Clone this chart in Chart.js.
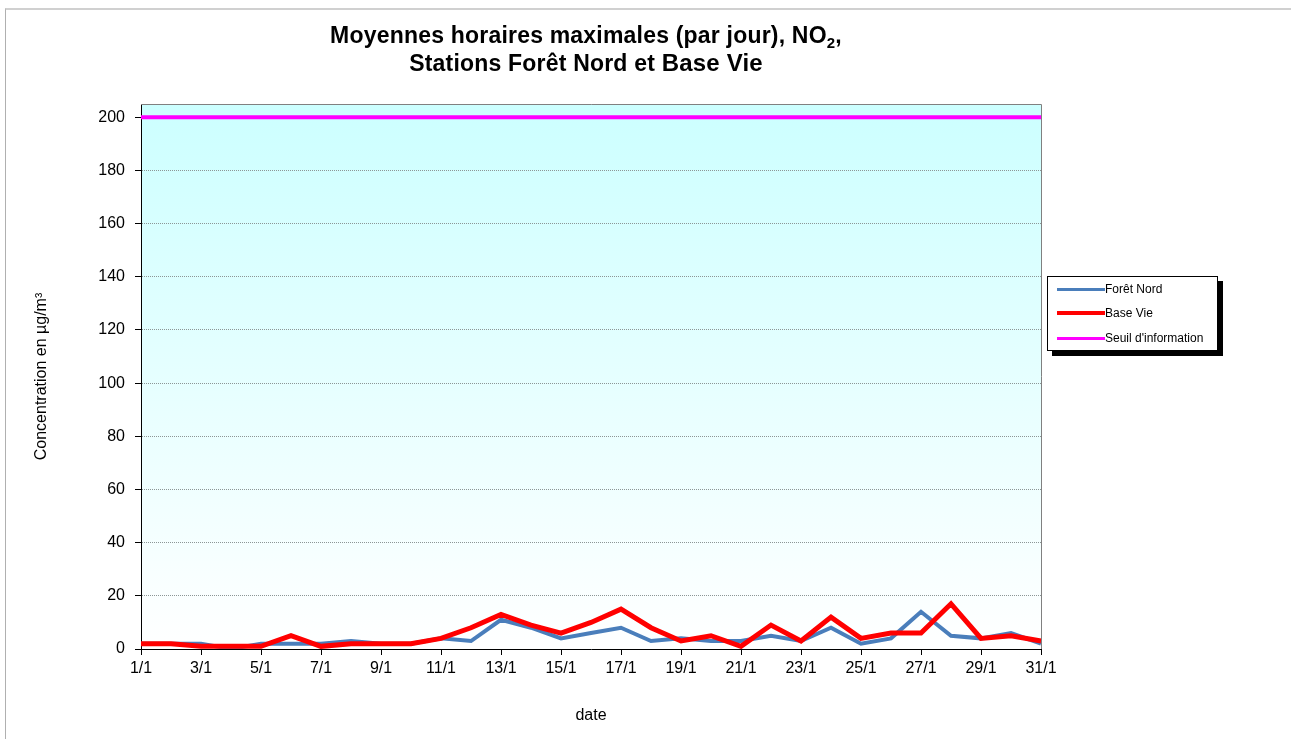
<!DOCTYPE html>
<html>
<head>
<meta charset="utf-8">
<script src="https://cdn.jsdelivr.net/npm/chart.js@4.4.1/dist/chart.umd.min.js"></script>
<style>
  html, body { margin: 0; padding: 0; background: #fff; }
  #wrap { position: relative; width: 1291px; height: 739px; overflow: hidden; font-family: "Liberation Sans", Arial, sans-serif; }
  #frame { position: absolute; left: 5px; top: 8px; width: 1400px; height: 900px; border-top: 2px solid #d0d0d0; border-left: 1px solid #b0b0b0; }
  #chart { position: absolute; left: 0; top: 0; }
  #title { position: absolute; left: 0; width: 1172px; top: 21px; text-align: center; font-weight: bold; font-size: 23px; letter-spacing: 0.2px; line-height: 28px; color: #000; }
  #title sub { font-size: 15px; vertical-align: -5px; line-height: 0; }
  #legend { position: absolute; left: 1047px; top: 276px; width: 171px; height: 75px; background: #fff; border: 1px solid #000; box-shadow: 5px 5px 0 #000; box-sizing: border-box; font-size: 12px; color: #000; }
  .item { position: absolute; left: 9px; height: 14px; line-height: 14px; }
  .item span.sw { position: absolute; left: 0; top: 6px; width: 48px; }
  .item span.tx { position: absolute; left: 48px; top: 0; white-space: nowrap; }
</style>
</head>
<body>
<div id="wrap">
  <div id="frame"></div>
  <canvas id="chart" width="1291" height="739"></canvas>
  <div id="title">Moyennes horaires maximales (par jour), NO<sub>2</sub>,<br>Stations Forêt Nord et <span style="font-size:24px">Base Vie</span></div>
  <div id="legend">
    <div class="item" style="top:5px"><span class="sw" style="border-top:3px solid #4a7ebb"></span><span class="tx">Forêt Nord</span></div>
    <div class="item" style="top:29px"><span class="sw" style="border-top:4px solid #ff0000;top:5px"></span><span class="tx">Base Vie</span></div>
    <div class="item" style="top:54px"><span class="sw" style="border-top:3px solid #ff00ff"></span><span class="tx">Seuil d'information</span></div>
  </div>
</div>
<script>
const days = ["1/1", "2/1", "3/1", "4/1", "5/1", "6/1", "7/1", "8/1", "9/1", "10/1",
  "11/1", "12/1", "13/1", "14/1", "15/1", "16/1", "17/1", "18/1", "19/1", "20/1",
  "21/1", "22/1", "23/1", "24/1", "25/1", "26/1", "27/1", "28/1", "29/1", "30/1", "31/1"];

const foretNord = [2, 2, 2, 0, 2, 2, 2, 3, 2, 2, 4, 3, 11, 8, 4, 6, 8, 3, 4, 3, 3, 5, 3, 8, 2, 4, 14, 5, 4, 6, 2];
const baseVie = [2, 2, 1, 1, 1, 5, 1, 2, 2, 2, 4, 8, 13, 9, 6, 10, 15, 8, 3, 5, 1, 9, 3, 12, 4, 6, 6, 17, 4, 5, 3];
const seuilInfo = [200, 200, 200, 200, 200, 200, 200, 200, 200, 200, 200, 200, 200, 200, 200, 200,
  200, 200, 200, 200, 200, 200, 200, 200, 200, 200, 200, 200, 200, 200, 200];

const yTicks = [0, 20, 40, 60, 80, 100, 120, 140, 160, 180, 200];

// fond dégradé cyan -> blanc + cadre gris haut/droite
const plotBg = {
  id: "plotBg",
  beforeDraw(chart) {
    const { ctx, chartArea: a } = chart;
    const g = ctx.createLinearGradient(0, a.top, 0, a.bottom);
    g.addColorStop(0, "#ccffff");
    g.addColorStop(1, "#ffffff");
    ctx.save();
    ctx.fillStyle = g;
    ctx.fillRect(a.left, a.top, a.right - a.left, a.bottom - a.top);
    ctx.restore();
  },
  afterDraw(chart) {
    const { ctx, chartArea: a } = chart;
    ctx.save();
    ctx.strokeStyle = "#808080";
    ctx.lineWidth = 1;
    ctx.beginPath();
    ctx.moveTo(a.left, a.top + 0.5);
    ctx.lineTo(a.right + 0.5, a.top + 0.5);
    ctx.lineTo(a.right + 0.5, a.bottom);
    ctx.stroke();
    ctx.restore();
  }
};

new Chart(document.getElementById("chart"), {
  type: "line",
  data: {
    labels: days,
    datasets: [
      { label: "Forêt Nord", data: foretNord, borderColor: "#4a7ebb", borderWidth: 4, order: 3 },
      { label: "Base Vie", data: baseVie, borderColor: "#ff0000", borderWidth: 5, order: 2 },
      { label: "Seuil d'information", data: seuilInfo, borderColor: "#ff00ff", borderWidth: 4, order: 1 }
    ]
  },
  options: {
    responsive: false,
    animation: false,
    elements: { point: { radius: 0 }, line: { tension: 0, borderCapStyle: "butt" } },
    layout: { padding: { left: 0, top: 104, right: 250, bottom: 0 } },
    plugins: { legend: { display: false }, tooltip: { enabled: false } },
    scales: {
      x: {
        offset: false,
        afterFit(scale) { scale.height = 90; },
        border: { color: "#000", width: 1 },
        grid: {
          drawOnChartArea: false,
          drawTicks: true,
          tickLength: 6,
          tickColor: (c) => (c.index % 2 === 0 ? "#000" : "rgba(0,0,0,0)")
        },
        ticks: {
          autoSkip: false,
          maxRotation: 0,
          padding: 4,
          color: "#000",
          font: { family: "Liberation Sans, Arial", size: 16 },
          callback(v, i) { return i % 2 === 0 ? this.getLabelForValue(v) : ""; }
        },
        title: {
          display: true,
          text: "date",
          color: "#000",
          font: { family: "Liberation Sans, Arial", size: 16 },
          padding: { top: 0, bottom: 14 }
        }
      },
      y: {
        min: 0,
        max: 205,
        afterFit(scale) { scale.width = 141; },
        afterBuildTicks(axis) { axis.ticks = yTicks.map((v) => ({ value: v })); },
        border: { color: "#000", width: 1, dash: [1, 1] },
        grid: {
          color: (c) => (c.tick && c.tick.value === 0 ? "rgba(0,0,0,0)" : "#8c9696"),
          tickLength: 6,
          tickColor: "#000",
          tickBorderDash: []
        },
        ticks: {
          padding: 10,
          color: "#000",
          font: { family: "Liberation Sans, Arial", size: 16 }
        },
        title: {
          display: true,
          text: "Concentration en µg/m³",
          color: "#000",
          font: { family: "Liberation Sans, Arial", size: 16 },
          padding: { top: 32, bottom: 0 }
        }
      }
    }
  },
  plugins: [plotBg]
});
</script>
</body>
</html>
